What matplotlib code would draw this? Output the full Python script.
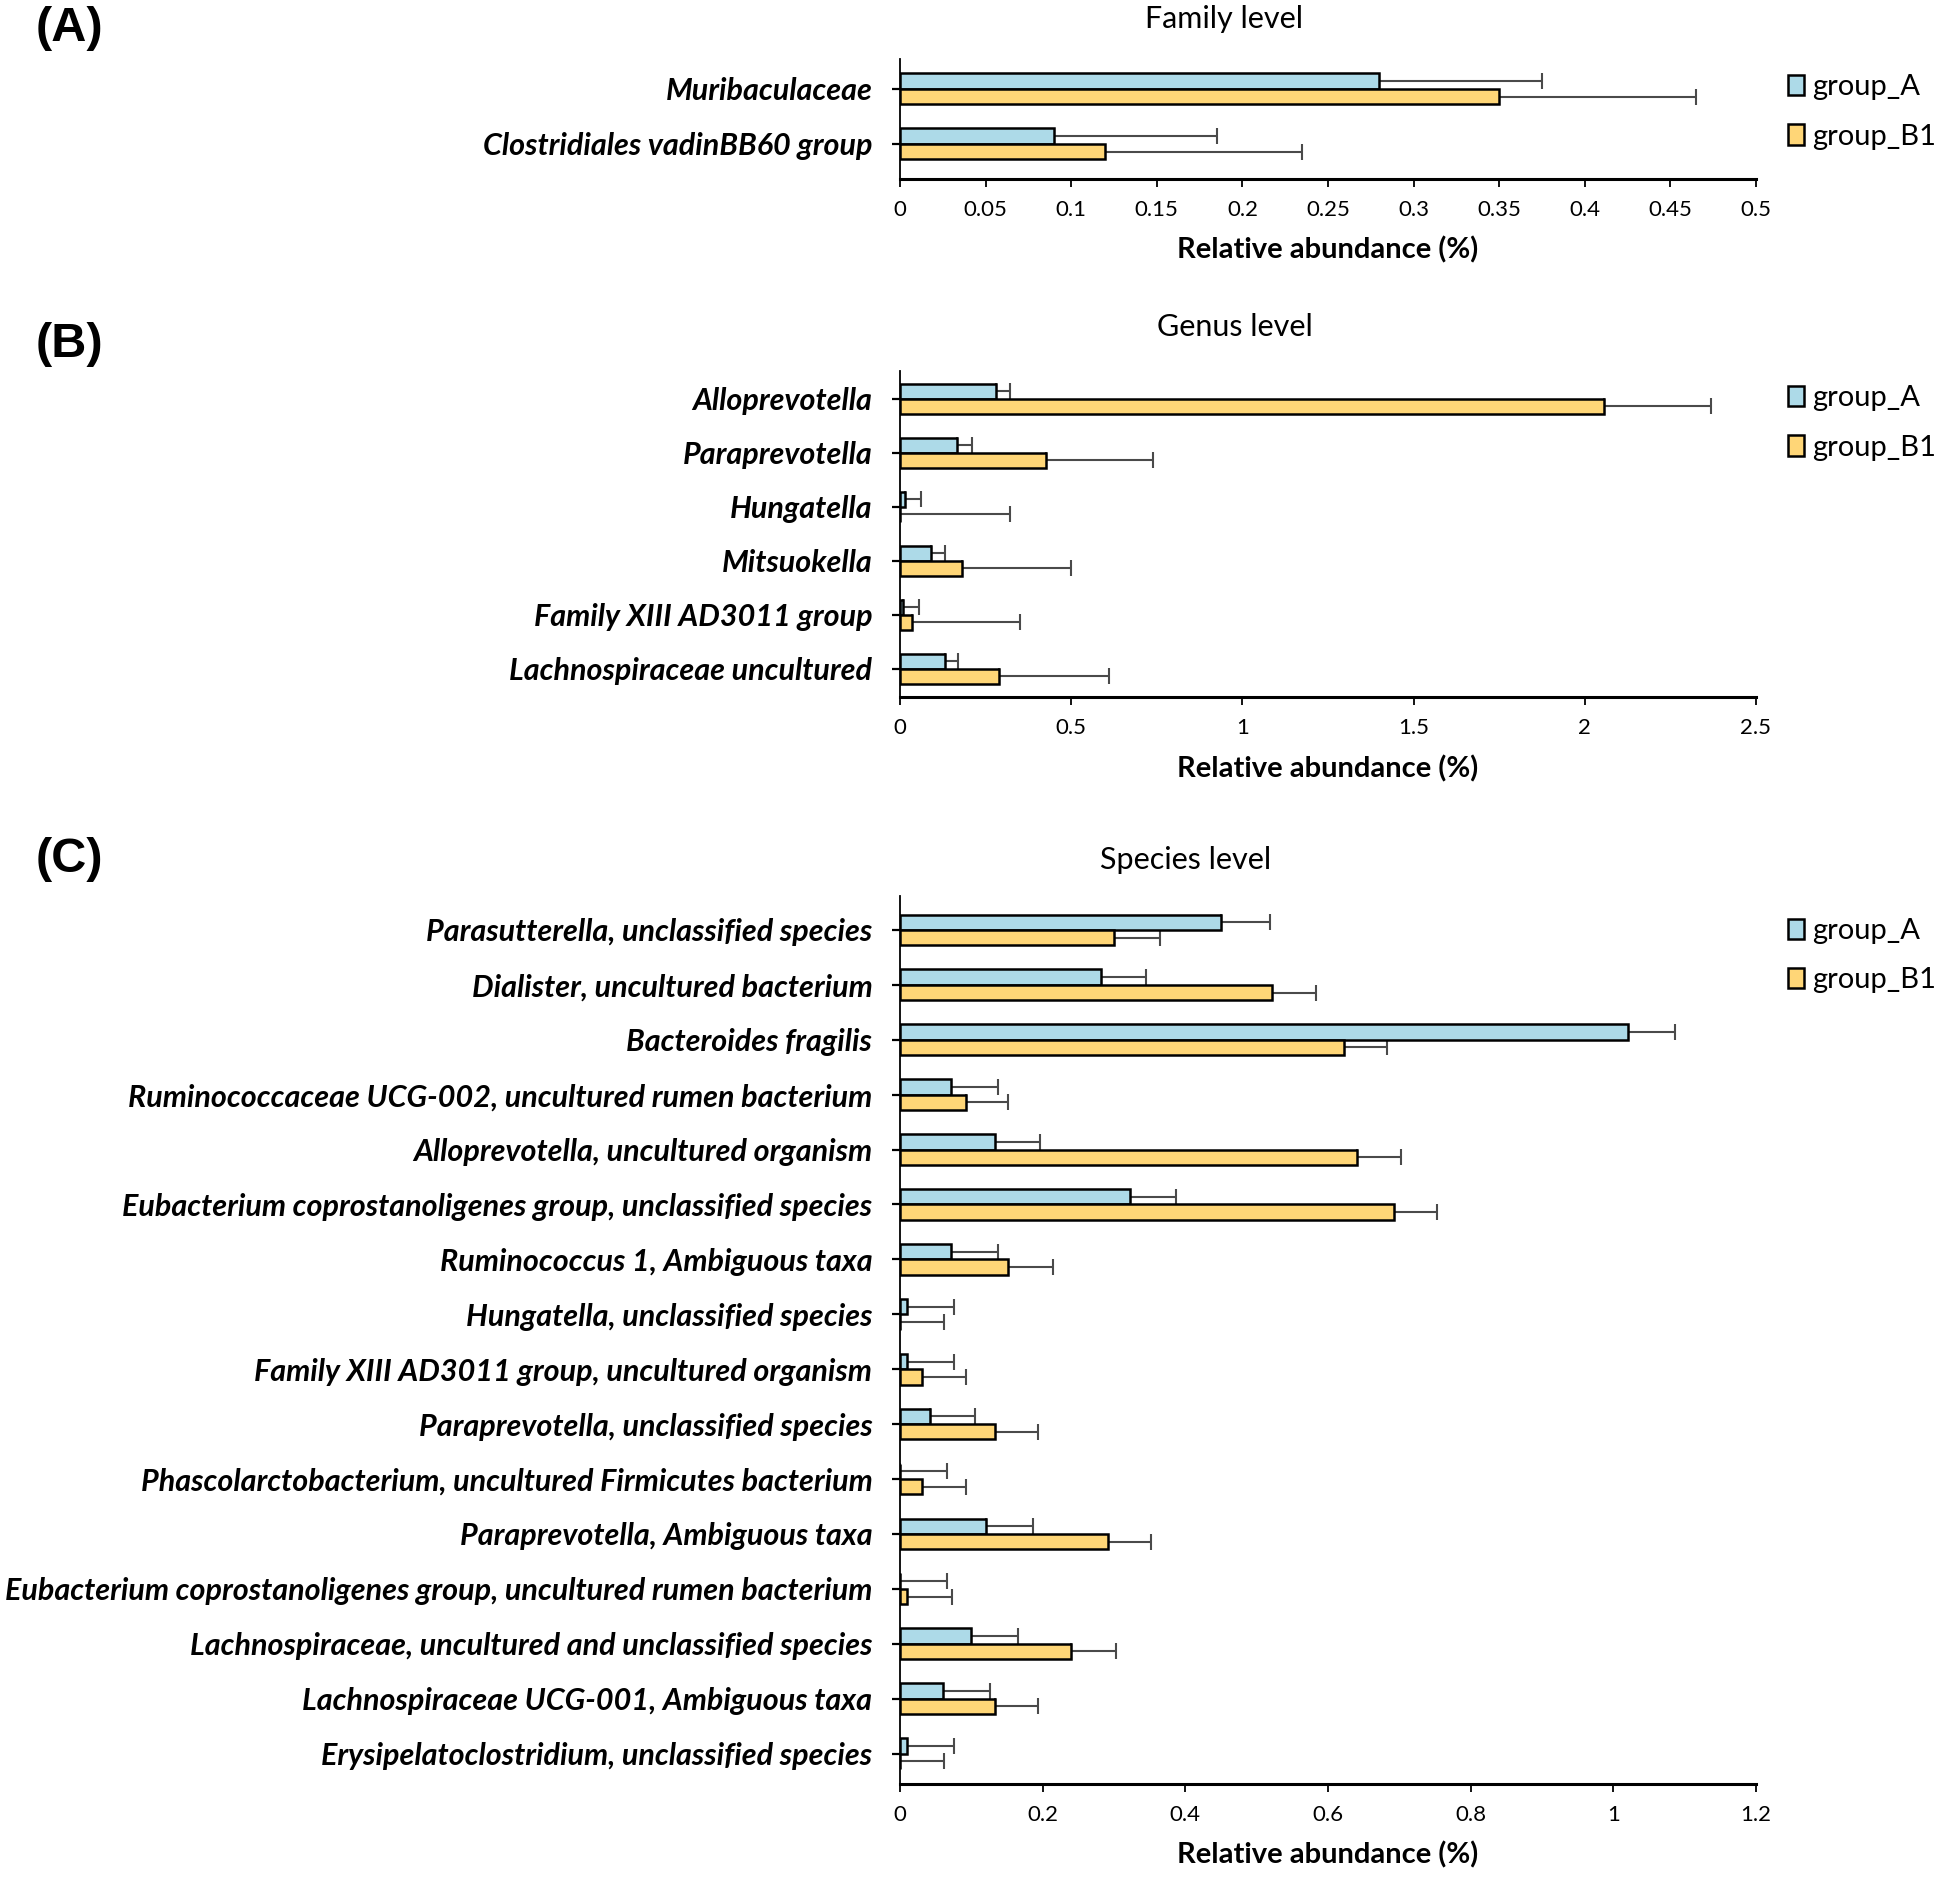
import matplotlib
matplotlib.use("Agg")
import matplotlib.pyplot as plt
import numpy as np

plt.rcParams['font.family'] = ['Lato', 'DejaVu Sans']

# ---- data (mean and mean+SD) ----
fam_names = ["Muribaculaceae", "Clostridiales vadinBB60 group"]
fam_a = [0.28, 0.09]
fam_a_top = [0.375, 0.185]
fam_b = [0.35, 0.12]
fam_b_top = [0.465, 0.235]

gen_names = ["Alloprevotella", "Paraprevotella", "Hungatella", "Mitsuokella",
             "Family XIII AD3011 group", "Lachnospiraceae uncultured"]
gen_a = [0.28, 0.165, 0.015, 0.09, 0.01, 0.13]
gen_a_top = [0.32, 0.21, 0.06, 0.13, 0.055, 0.17]
gen_b = [2.055, 0.427, 0.0, 0.18, 0.036, 0.29]
gen_b_top = [2.37, 0.74, 0.32, 0.50, 0.35, 0.61]

spe_names = ["Parasutterella, unclassified species",
             "Dialister, uncultured bacterium",
             "Bacteroides fragilis",
             "Ruminococcaceae UCG-002, uncultured rumen bacterium",
             "Alloprevotella, uncultured organism",
             "Eubacterium coprostanoligenes group, unclassified species",
             "Ruminococcus 1, Ambiguous taxa",
             "Hungatella, unclassified species",
             "Family XIII AD3011 group, uncultured organism",
             "Paraprevotella, unclassified species",
             "Phascolarctobacterium, uncultured Firmicutes bacterium",
             "Paraprevotella, Ambiguous taxa",
             "Eubacterium coprostanoligenes group, uncultured rumen bacterium",
             "Lachnospiraceae, uncultured and unclassified species",
             "Lachnospiraceae UCG-001, Ambiguous taxa",
             "Erysipelatoclostridium, unclassified species"]
spe_a = [0.45, 0.282, 1.021, 0.072, 0.133, 0.322, 0.072, 0.01,
         0.01, 0.042, 0.0, 0.121, 0.0, 0.10, 0.06, 0.01]
spe_a_top = [0.518, 0.345, 1.086, 0.137, 0.196, 0.387, 0.137, 0.075,
             0.075, 0.105, 0.066, 0.186, 0.066, 0.166, 0.126, 0.075]
spe_b = [0.30, 0.522, 0.622, 0.093, 0.641, 0.692, 0.152, 0.0,
         0.031, 0.133, 0.031, 0.291, 0.01, 0.24, 0.133, 0.0]
spe_b_top = [0.364, 0.583, 0.683, 0.152, 0.702, 0.753, 0.214, 0.061,
             0.093, 0.193, 0.093, 0.352, 0.073, 0.303, 0.193, 0.061]

col_a = "#ADDAE8"
col_b = "#FFD677"
err_col = "#4a4a4a"

fig = plt.figure(figsize=(19.6, 18.8), dpi=100)


def panel(rect, names, a, a_top, b, b_top, xmax, xstep, ylim):
    ax = fig.add_axes(rect)
    y = np.arange(len(names))
    h = 0.28
    a = np.array(a); b = np.array(b)
    ax.barh(y - h / 2, a, h, color=col_a, edgecolor="black", linewidth=1.8,
            label="group_A", zorder=3)
    ax.barh(y + h / 2, b, h, color=col_b, edgecolor="black", linewidth=1.8,
            label="group_B1", zorder=3)
    ax.errorbar(a, y - h / 2, xerr=[np.zeros(len(a)), np.array(a_top) - a],
                fmt="none", ecolor=err_col, elinewidth=1.5, capsize=6,
                capthick=1.5, zorder=2)
    ax.errorbar(b, y + h / 2, xerr=[np.zeros(len(b)), np.array(b_top) - b],
                fmt="none", ecolor=err_col, elinewidth=1.5, capsize=6,
                capthick=1.5, zorder=2)
    ax.set_ylim(*ylim)
    ax.set_xlim(0, xmax)
    ticks = np.arange(0, xmax + xstep / 2, xstep)
    ax.set_xticks(ticks)
    ax.set_xticklabels([("%.2f" % t).rstrip("0").rstrip(".") for t in ticks],
                       fontsize=16)
    ax.set_yticks(y)
    ax.set_yticklabels(names, fontsize=22, fontweight="bold", style="italic")
    for s in ["top", "right"]:
        ax.spines[s].set_visible(False)
    ax.spines["bottom"].set_linewidth(2.2)
    ax.spines["left"].set_linewidth(1.3)
    ax.tick_params(axis="y", length=6, width=1.6, pad=14)
    ax.tick_params(axis="x", length=6, width=1.3, pad=9)
    ax.set_xlabel("Relative abundance (%)", fontsize=21, fontweight="bold",
                  labelpad=12)
    return ax


axA = panel([0.4592, 0.9049, 0.4367, 0.0638], fam_names, fam_a, fam_a_top,
            fam_b, fam_b_top, 0.5, 0.05, (1.636, -0.545))
axB = panel([0.4592, 0.6290, 0.4367, 0.1735], gen_names, gen_a, gen_a_top,
            gen_b, gen_b_top, 2.5, 0.5, (5.53, -0.51))
axC = panel([0.4592, 0.0512, 0.4367, 0.4721], spe_names, spe_a, spe_a_top,
            spe_b, spe_b_top, 1.2, 0.2, (15.55, -0.615))

panels = [(axA, 0.9605, "Family level", 0.6245, 0.9899, "(A)", 0.9846),
          (axB, 0.7950, "Genus level", 0.6300, 0.8258, "(B)", 0.8170),
          (axC, 0.5117, "Species level", 0.6050, 0.5426, "(C)", 0.5426)]
for ax, ly, title, tx, ty, letter, lty in panels:
    ax.legend(loc="upper left", bbox_to_anchor=(0.912, ly),
              bbox_transform=fig.transFigure, frameon=False, fontsize=21,
              borderpad=0, borderaxespad=0,
              handlelength=0.55, handleheight=0.7, handletextpad=0.3,
              labelspacing=0.8)
    fig.text(tx, ty, title, fontsize=22, ha="center", va="center")
    fig.text(0.018, lty, letter, fontsize=35, fontweight="bold",
             family="Liberation Sans", va="center")

fig.savefig("out.png", dpi=100)
